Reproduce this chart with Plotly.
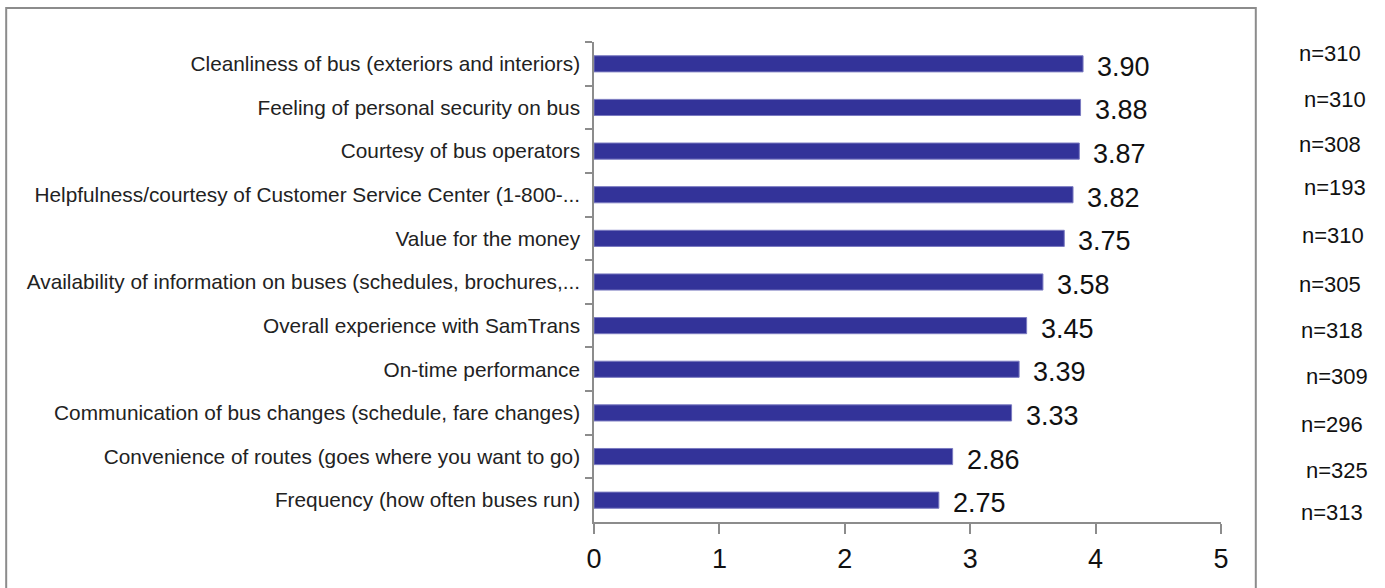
import plotly.graph_objects as go

categories = [
    "Cleanliness of bus (exteriors and interiors)",
    "Feeling of personal security on bus",
    "Courtesy of bus operators",
    "Helpfulness/courtesy of Customer Service Center (1-800-...",
    "Value for the money",
    "Availability of information on buses (schedules, brochures,...",
    "Overall experience with SamTrans",
    "On-time performance",
    "Communication of bus changes (schedule, fare changes)",
    "Convenience of routes (goes where you want to go)",
    "Frequency (how often buses run)",
]
scores = [3.90, 3.88, 3.87, 3.82, 3.75, 3.58, 3.45, 3.39, 3.33, 2.86, 2.75]
n_counts = [310, 310, 308, 193, 310, 305, 318, 309, 296, 325, 313]
x_ticks = [0, 1, 2, 3, 4, 5]

# layout-only offsets for the n= labels (pixels)
n_yshift = [10, 8, 7, 7, 3, -2, -5, -7, -12, -14, -12]
n_xshift = [-4, 1, -4, 1, -1, -4, -2, 3, -2, 3, -2]

BAR = "#333399"
AX = "#8c8c8c"

fig = go.Figure()
fig.add_trace(go.Bar(
    y=categories, x=scores, orientation="h",
    marker=dict(color=BAR, line=dict(color="#7a7ac0", width=1)),
    width=0.37, hoverinfo="x+y",
))

for c, v in zip(categories, scores):
    fig.add_annotation(x=v, y=c, text=f"{v:.2f}", showarrow=False,
                       xanchor="left", yanchor="middle", xshift=12, yshift=-3,
                       font=dict(family="Liberation Sans, Arial", size=27, color="#111111"))

for c, n, ys, xs in zip(categories, n_counts, n_yshift, n_xshift):
    fig.add_annotation(x=1.18, xref="paper", y=c, yref="y", text=f"n={n}",
                       showarrow=False, xanchor="center", yanchor="middle",
                       xshift=xs, yshift=ys,
                       font=dict(family="Liberation Sans, Arial", size=22, color="#111111"))

# outer frame
fig.add_shape(type="rect", xref="paper", yref="paper",
              x0=-0.9375, x1=1.0555, y0=-0.3, y1=1.0708,
              line=dict(color=AX, width=2), fillcolor="rgba(0,0,0,0)", layer="below")

fig.update_layout(
    width=1385, height=588,
    margin=dict(l=594, r=164, t=42, b=66, autoexpand=False),
    paper_bgcolor="white", plot_bgcolor="white",
    showlegend=False,
    bargap=0.63,
)
fig.update_xaxes(
    range=[0, 5], tickvals=x_ticks, ticktext=[str(t) for t in x_ticks],
    showgrid=False, zeroline=False, automargin=False,
    showline=True, linecolor=AX, linewidth=1.5,
    ticks="outside", ticklen=10, tickcolor=AX, tickwidth=1.5,
    tickfont=dict(family="Liberation Sans, Arial", size=27, color="#111111"),
    ticklabelstandoff=2,
)
fig.update_yaxes(
    autorange="reversed", type="category",
    showgrid=False, zeroline=False, automargin=False,
    showline=True, linecolor=AX, linewidth=1.5,
    ticks="outside", ticklen=7, tickcolor=AX, tickwidth=1.5,
    tickson="boundaries",
    tickfont=dict(family="Liberation Sans, Arial", size=20.8, color="#222222"),
    ticklabelstandoff=8,
)

fig.write_html(
    "out.html",
    config={"displayModeBar": False},
    post_script="document.body.style.margin='0';document.body.style.padding='0';document.body.style.overflow='hidden';",
)
